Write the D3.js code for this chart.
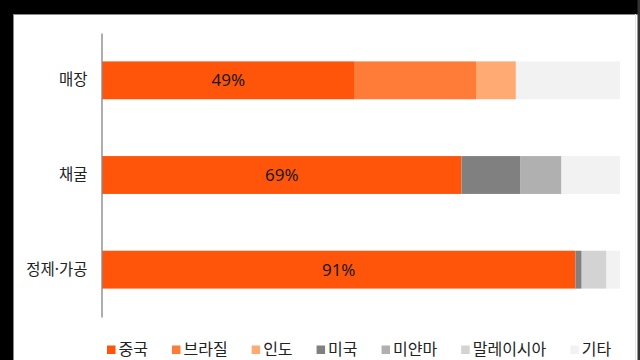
<!DOCTYPE html>
<html><head><meta charset="utf-8">
<script src="https://cdn.jsdelivr.net/npm/d3@7"></script>
<style>html,body{margin:0;padding:0;background:#fff;} svg{display:block;}</style>
</head><body>
<svg id="c" width="640" height="360"></svg>
<script>
const categories = ["매장", "채굴", "정제·가공"];
const seriesNames = ["중국", "브라질", "인도", "미국", "미얀마", "말레이시아", "기타"];
const seriesColors = ["#FF550A", "#FF7B38", "#FFAA72", "#808080", "#B0B0B0", "#D3D3D3", "#F2F2F2"];
const china    = [48.8, 69.4, 91.4];
const brazil   = [23.4, 0, 0];
const india    = [7.7, 0, 0];
const usa      = [0, 11.4, 1.2];
const myanmar  = [0, 7.9, 0];
const malaysia = [0, 0, 4.8];
const other    = [20.1, 11.3, 2.6];
const xDomain  = [0, 100];

const seriesValues = [china, brazil, india, usa, myanmar, malaysia, other];
const FONT = "'Noto Sans', 'Noto Sans CJK KR', sans-serif";
const svg = d3.select("#c");

// frame
svg.append("rect").attr("x", 0).attr("y", 0).attr("width", 640).attr("height", 360).attr("fill", "#fff");
svg.append("rect").attr("x", 0).attr("y", 0).attr("width", 640).attr("height", 14).attr("fill", "#000");
svg.append("rect").attr("x", 0).attr("y", 0).attr("width", 13).attr("height", 360).attr("fill", "#000");
svg.append("line").attr("x1", 13).attr("x2", 640).attr("y1", 14.5).attr("y2", 14.5).attr("stroke", "#888").attr("stroke-width", 1);
svg.append("line").attr("x1", 13.5).attr("x2", 13.5).attr("y1", 14).attr("y2", 360).attr("stroke", "#888").attr("stroke-width", 1);
svg.append("rect").attr("x", 637.5).attr("y", 0).attr("width", 2.5).attr("height", 360).attr("fill", "#333");
svg.append("line").attr("x1", 635.5).attr("x2", 635.5).attr("y1", 14).attr("y2", 360).attr("stroke", "#e6e6e6").attr("stroke-width", 1);

const rows = categories.map((c, i) => {
  const r = { cat: c };
  seriesNames.forEach((s, j) => r[s] = seriesValues[j][i]);
  return r;
});
const stacked = d3.stack().keys(seriesNames)(rows);

const x = d3.scaleLinear().domain(xDomain).range([102, 620]);
const y = d3.scaleBand().domain(categories).range([33, 317]).paddingInner(0.6).paddingOuter(0.3);
const color = d3.scaleOrdinal().domain(seriesNames).range(seriesColors);

const g = svg.append("g");
g.selectAll("g.s").data(stacked).join("g").attr("class", "s")
  .attr("fill", d => color(d.key))
  .selectAll("rect").data(d => d).join("rect")
  .attr("x", d => x(d[0]))
  .attr("y", d => y(d.data.cat))
  .attr("width", d => Math.max(0, x(d[1]) - x(d[0])))
  .attr("height", y.bandwidth());

// value labels on China segment
const first = stacked[0];
g.selectAll("text.v").data(first).join("text").attr("class", "v")
  .attr("x", d => (x(d[0]) + x(d[1])) / 2)
  .attr("y", d => y(d.data.cat) + y.bandwidth() / 2)
  .attr("dy", "0.36em")
  .attr("text-anchor", "middle")
  .attr("font-family", FONT).attr("font-size", 17).attr("fill", "#1a1a1a")
  .text(d => Math.round(d[1] - d[0]) + "%");

// axis
const ax = svg.append("g").attr("transform", "translate(101.5,0)")
  .call(d3.axisLeft(y).tickSize(0).tickSizeOuter(0).tickPadding(14));
ax.select(".domain").attr("stroke", "#8c8c8c").attr("stroke-width", 1.4);
ax.selectAll("text").attr("font-family", FONT).attr("font-size", 15.5).attr("fill", "#222");

// legend
const leg = svg.append("g");
let lx = 107;
const ly = 349.5;
seriesNames.forEach((s, i) => {
  leg.append("rect").attr("x", lx).attr("y", ly - 4).attr("width", 8.5).attr("height", 8.5).attr("fill", color(s));
  const t = leg.append("text").attr("x", lx + 11.5).attr("y", ly).attr("dy", "0.36em")
    .attr("font-family", FONT).attr("font-size", 16).attr("fill", "#222").text(s);
  lx += 11.5 + t.node().getComputedTextLength() + 24;
});
</script>
</body></html>
